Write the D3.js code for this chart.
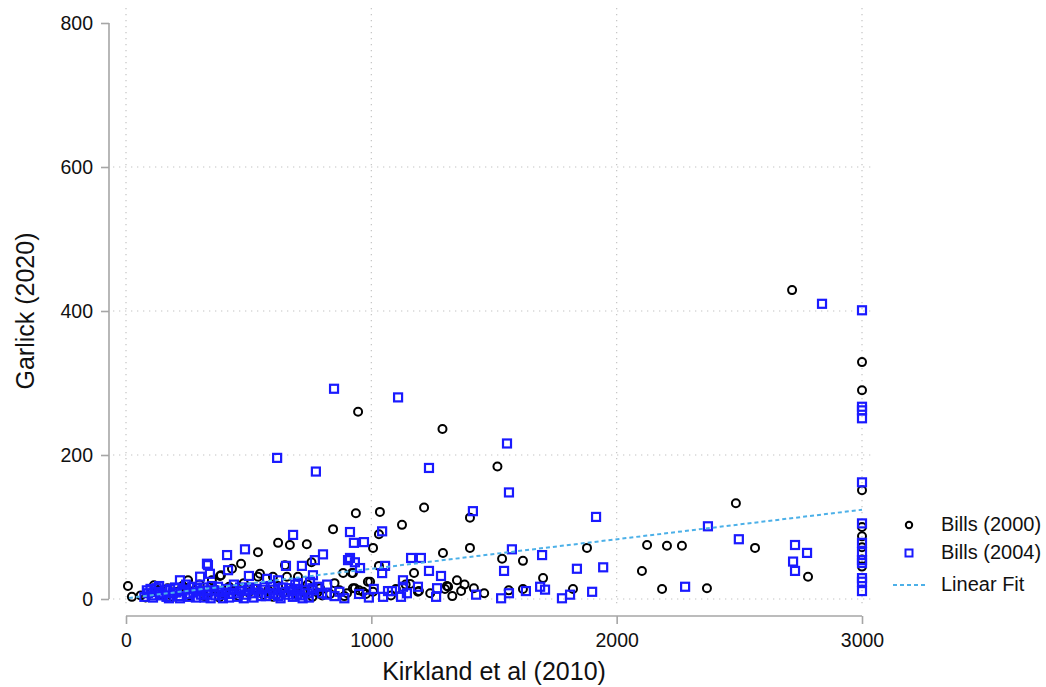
<!DOCTYPE html>
<html>
<head>
<meta charset="utf-8">
<script src="https://cdn.jsdelivr.net/npm/d3@7"></script>
<style>
  html, body { margin: 0; padding: 0; background: #fff; }
  svg { display: block; font-family: "Liberation Sans", Arial, sans-serif; }
</style>
</head>
<body>
<svg id="chart" width="1046" height="687"></svg>
<script>
// ---- Data ----
const xTicks = [0, 1000, 2000, 3000];
const yTicks = [0, 200, 400, 600, 800];
const yGridValues = [0, 200, 400, 600];
const xLabel = "Kirkland et al (2010)";
const yLabel = "Garlick (2020)";
const seriesNames = ["Bills (2000)", "Bills (2004)", "Linear Fit"];

// Bills (2000): [Kirkland, Garlick]
const bills2000 = [
  [2715,429],[3000,329],[3000,290],[946,260],[1290,236],[1514,184],[3000,151],[2486,133],
  [1215,127],[937,119],[1035,121],[1402,113],[1125,103],[844,97],[1031,90],[620,78],
  [668,75],[737,76],[2124,75],[2205,74],[2266,74],[2564,71],[1879,71],[1007,71],
  [1402,71],[538,65],[1292,64],[1533,56],[1618,53],[3000,100],[3000,87],[3000,72],
  [3000,55],[3000,45],[469,49],[432,42],[648,47],[756,51],[885,36],[921,36],
  [1031,46],[2103,39],[925,36],[1174,36],[995,24],[1349,26],[1700,29],[2780,31],
  [1158,21],[2185,14],[2368,15],[1822,14],[1618,14],[1418,15],[1366,11],[1308,18],
  [1313,17],[1300,14],[1194,11],[1190,10],[925,15],[950,12],[966,10],[978,7],
  [1007,10],[850,22],[383,32],[253,26],[114,19],[538,31],[599,31],[701,31],
  [656,31],[791,15],[832,7],[901,8],[933,15],[8,18],[24,3],[387,33],
  [350,26],[546,35],[986,24],[60,5],[80,2],[100,8],[130,12],[150,6],
  [170,15],[190,3],[210,10],[230,18],[260,5],[280,12],[300,20],[320,4],
  [340,9],[360,14],[380,2],[400,7],[420,17],[440,11],[460,4],[480,22],
  [500,9],[520,15],[560,6],[580,12],[600,3],[620,18],[640,8],[680,14],
  [700,5],[720,10],[740,20],[760,3],[780,9],[800,5],[870,12],[890,4],
  [1080,5],[1100,14],[1140,20],[1240,8],[1330,4],[1380,20],[1460,8],[1560,12]
];

// Bills (2004): [Kirkland, Garlick]
const bills2004 = [
  [2837,410],[3000,401],[848,292],[1109,280],[3000,267],[3000,262],[3000,251],[1553,216],
  [616,196],[1235,182],[774,177],[3000,162],[1561,148],[1414,122],[1916,114],[3000,105],
  [2372,101],[1044,94],[913,93],[681,89],[2498,83],[929,78],[970,79],[3000,78],
  [2727,75],[1573,69],[485,69],[3000,65],[2776,64],[412,61],[1696,61],[803,62],
  [1162,57],[1202,57],[913,57],[770,54],[905,54],[3000,54],[2719,52],[933,51],
  [3000,50],[652,46],[717,46],[334,47],[1056,46],[1945,44],[1838,42],[954,43],
  [416,40],[1541,39],[1235,39],[2727,39],[1044,36],[342,35],[302,31],[501,32],
  [762,33],[1284,32],[3000,29],[220,26],[575,28],[1129,26],[750,24],[3000,24],
  [620,26],[2279,17],[1129,17],[1190,17],[1268,15],[1688,17],[1708,13],[1068,11],
  [1084,11],[1630,11],[3000,11],[1145,8],[1561,8],[1900,10],[758,12],[799,8],
  [819,6],[697,6],[1048,3],[1121,3],[1264,3],[1427,6],[1529,1],[1777,1],
  [1810,6],[701,22],[330,49],
  [75,3],[90,8],[100,14],[110,2],[120,10],[135,18],[150,5],[160,12],
  [175,1],[190,8],[200,16],[215,4],[230,11],[245,20],[260,3],[275,9],
  [290,15],[305,6],[320,2],[335,12],[350,18],[365,5],[380,10],[395,1],
  [410,14],[425,7],[440,20],[455,3],[470,11],[490,6],[505,16],[520,2],
  [540,9],[555,13],[570,4],[590,18],[610,7],[630,1],[650,10],[665,15],
  [680,3],[690,20],[710,5],[730,12],[745,2],[780,17],[820,20],[850,4],
  [870,10],[890,1],[950,7],[990,2],[1010,14],
  [85,12],[105,5],[125,15],[140,8],[165,3],[180,14],[205,9],[220,1],
  [240,13],[255,7],[270,17],[285,2],[300,11],[315,16],[330,6],[345,1],
  [360,12],[375,17],[390,6],[405,9],[420,2],[435,13],[450,8],[465,16],
  [480,1],[495,12],[515,8],[530,14],[550,4],[565,17],[585,8],[600,13],
  [620,4],[640,16],[660,6],[675,11],[700,14],[720,1],[740,8],[760,15]
];

// Linear fit endpoints
const fitX = [12, 3000];
const fitY = [1.5, 124];

// ---- Drawing ----
const svg = d3.select("#chart");
const x = d3.scaleLinear().domain([0, 3000]).range([126, 862]);
const y = d3.scaleLinear().domain([0, 800]).range([599, 23]);

const plotLeft = 113, plotRight = 872, plotTop = 8, plotBottom = 608;
const gridColor = "#c4c4c4";
const axisColor = "#a6a6a6";
const blue = "#1a1aff";
const fitColor = "#4cb0e8";

// Gridlines
const grid = svg.append("g");
grid.selectAll("line.hg").data(yGridValues).join("line")
  .attr("x1", plotLeft).attr("x2", plotRight)
  .attr("y1", d => y(d)).attr("y2", d => y(d))
  .attr("stroke", gridColor).attr("stroke-width", 1.2)
  .attr("stroke-dasharray", "1.3,4.7");
grid.selectAll("line.vg").data(xTicks).join("line")
  .attr("x1", d => x(d)).attr("x2", d => x(d))
  .attr("y1", plotTop).attr("y2", plotBottom)
  .attr("stroke", gridColor).attr("stroke-width", 1.2)
  .attr("stroke-dasharray", "1.3,4.7");

// Axes
const yAxis = d3.axisLeft(y).tickValues(yTicks).tickSize(8).tickPadding(8).tickFormat(d3.format("d"));
const gy = svg.append("g").attr("transform", "translate(109,0)").call(yAxis);
const xAxis = d3.axisBottom(x).tickValues(xTicks).tickSize(8).tickPadding(9).tickFormat(d3.format("d"));
const gx = svg.append("g").attr("transform", "translate(0,616)").call(xAxis);
[gx, gy].forEach(g => {
  g.select(".domain").attr("stroke", axisColor).attr("stroke-width", 1.6);
  g.selectAll(".tick line").attr("stroke", axisColor).attr("stroke-width", 1.6);
  g.selectAll(".tick text").attr("fill", "#111").style("font-size", "19.5px")
    .style("font-family", '"Liberation Sans", Arial, sans-serif');
});
gy.select(".domain").attr("d", `M0,${y(800)}V${y(0)}`);
gx.select(".domain").attr("d", `M${x(0)},0H${x(3000)}`);

// Axis titles
svg.append("text").attr("x", (x(0) + x(3000)) / 2).attr("y", 680)
  .attr("text-anchor", "middle").style("font-size", "25px").attr("fill", "#111")
  .text(xLabel);
svg.append("text").attr("transform", `translate(34,${(y(0) + y(800)) / 2}) rotate(-90)`)
  .attr("text-anchor", "middle").style("font-size", "25px").attr("fill", "#111")
  .text(yLabel);

// Series: Bills (2000) circles
svg.append("g").selectAll("circle").data(bills2000).join("circle")
  .attr("cx", d => x(d[0])).attr("cy", d => y(d[1])).attr("r", 4)
  .attr("fill", "none").attr("stroke", "#000").attr("stroke-width", 2);

// Series: Bills (2004) squares
const s = 8;
svg.append("g").selectAll("rect").data(bills2004).join("rect")
  .attr("x", d => x(d[0]) - s / 2).attr("y", d => y(d[1]) - s / 2)
  .attr("width", s).attr("height", s)
  .attr("fill", "none").attr("stroke", blue).attr("stroke-width", 2.2);

// Linear fit
const fitData = fitX.map((v, i) => [v, fitY[i]]);
svg.append("path").datum(fitData)
  .attr("d", d3.line().x(d => x(d[0])).y(d => y(d[1])))
  .attr("fill", "none").attr("stroke", fitColor).attr("stroke-width", 2)
  .attr("stroke-dasharray", "4,3");

// Legend
const lg = svg.append("g");
const legendRows = [525, 553, 585];
lg.append("circle").attr("cx", 909).attr("cy", legendRows[0]).attr("r", 3.2)
  .attr("fill", "none").attr("stroke", "#000").attr("stroke-width", 2);
lg.append("rect").attr("x", 909 - 3.5).attr("y", legendRows[1] - 3.5).attr("width", 7).attr("height", 7)
  .attr("fill", "none").attr("stroke", blue).attr("stroke-width", 2);
lg.append("line").attr("x1", 893).attr("x2", 927).attr("y1", legendRows[2]).attr("y2", legendRows[2])
  .attr("stroke", fitColor).attr("stroke-width", 2).attr("stroke-dasharray", "4,3");
lg.selectAll("text").data(seriesNames).join("text")
  .attr("x", 941).attr("y", (d, i) => legendRows[i] + 6)
  .style("font-size", "20px").attr("fill", "#111").text(d => d);
</script>
</body>
</html>
